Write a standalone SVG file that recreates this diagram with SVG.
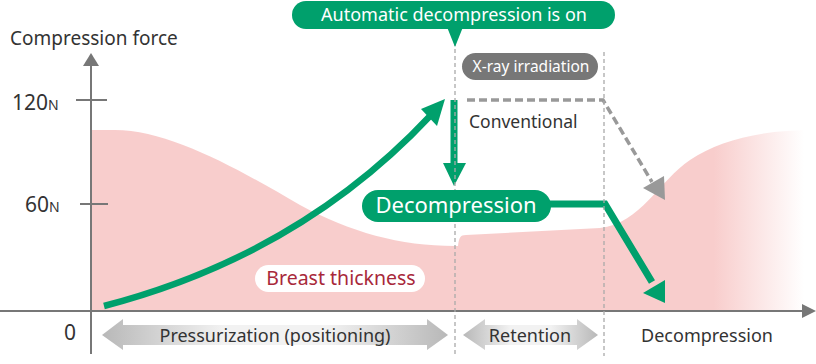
<svg xmlns="http://www.w3.org/2000/svg" width="816" height="364" viewBox="0 0 816 364">
<style>
text{font-family:"Noto Sans","Open Sans","DejaVu Sans",sans-serif;}
.dark{fill:#333333;}
.white{fill:#ffffff;}
.axis{stroke:#777777;stroke-width:2;fill:none;}
.vdash{stroke:#aaaaaa;stroke-width:1.3;stroke-dasharray:4 3;fill:none;}
.green{stroke:#00a06c;fill:none;}
.gfill{fill:#00a06c;}
</style>
<defs>
<linearGradient id="pinkfade" gradientUnits="userSpaceOnUse" x1="91" y1="0" x2="815" y2="0">
<stop offset="0" stop-color="#f8cdcc"/>
<stop offset="0.86" stop-color="#f8cdcc"/>
<stop offset="0.985" stop-color="#f8cdcc" stop-opacity="0"/>
</linearGradient>
<linearGradient id="arrowGrad" x1="0" y1="0" x2="1" y2="0">
<stop offset="0" stop-color="#b8b8b8"/>
<stop offset="0.35" stop-color="#f2f2f2"/>
<stop offset="0.65" stop-color="#f2f2f2"/>
<stop offset="1" stop-color="#b8b8b8"/>
</linearGradient>
</defs>

<g id="breast-area">
<path d="M91,130 L115,130 C170,130 240,170 300,205 C350,232 400,246 455,246 L458,246 C459,238 460,235 466,235 L600,228 C640,224 660,180 690,160 C720,140 760,130 815,130 L815,311 L91,311 Z" fill="url(#pinkfade)"/>
</g>

<g id="axes">
<line class="axis" x1="0" y1="311" x2="803" y2="311"/>
<polygon points="816,311 802,304 802,318" fill="#777777"/>
<line class="axis" x1="91" y1="354" x2="91" y2="63"/>
<polygon points="91,53 83,66 99,66" fill="#777777"/>
<line class="axis" x1="76" y1="100" x2="107" y2="100"/>
<line class="axis" x1="80" y1="204" x2="108" y2="204"/>
<text x="10" y="45" font-size="19" class="dark">Compression force</text>
<text x="12" y="110" font-size="21" class="dark">120<tspan font-size="14">N</tspan></text>
<text x="25" y="212" font-size="21" class="dark">60<tspan font-size="14">N</tspan></text>
<text x="64" y="340" font-size="21" class="dark">0</text>
</g>

<g id="connectors">
<path class="green" stroke-width="6.5" d="M104,306 Q300,255 431,115"/>
<polygon class="gfill" points="445,99 421,109 437,126"/>
<line class="green" stroke-width="7" x1="454" y1="100" x2="454" y2="165"/>
<polygon class="gfill" points="454,186 443,163 466,163"/>
<path d="M467,100 L603,100 L652,182" fill="none" stroke="#999999" stroke-width="3.5" stroke-dasharray="8 4"/>
<polygon points="665,200 643,188 664,176" fill="#999999"/>
<path class="green" stroke-width="7" d="M545,204 L605,204 L652,282"/>
<polygon class="gfill" points="665,303 643,293 665,280"/>
<line class="vdash" x1="455" y1="42" x2="455" y2="356"/>
<line class="vdash" x1="604" y1="52" x2="604" y2="356"/>
</g>

<g id="callout-auto">
<rect x="292" y="1" width="323" height="28" rx="14" class="gfill"/>
<polygon points="447,27 463,27 455,47" class="gfill"/>
<text x="454" y="21" font-size="18" text-anchor="middle" class="white">Automatic decompression is on</text>
</g>

<g id="xray">
<rect x="462" y="53" width="136" height="27" rx="13.5" fill="#777777"/>
<text x="531" y="72" font-size="15.5" text-anchor="middle" class="white">X-ray irradiation</text>
</g>

<g id="conventional">
<text x="469" y="128" font-size="17.5" class="dark">Conventional</text>
</g>

<g id="decompression-box">
<rect x="362" y="190" width="189" height="32" rx="16" class="gfill"/>
<text x="456" y="213" font-size="22" text-anchor="middle" class="white">Decompression</text>
</g>

<g id="breast-label">
<rect x="255" y="265" width="170" height="27" rx="13.5" fill="#ffffff"/>
<text x="341" y="285" font-size="19.5" text-anchor="middle" fill="#a8283a">Breast thickness</text>
</g>

<g id="phase-pressurization">
<path d="M102,335 L123,319 L123,325 L427,325 L427,319 L448,335 L427,350 L427,345 L123,345 L123,350 Z" fill="url(#arrowGrad)"/>
<text x="275" y="342" font-size="18" text-anchor="middle" class="dark">Pressurization (positioning)</text>
</g>

<g id="phase-retention">
<path d="M463,335 L485,319 L485,325 L577,325 L577,319 L598,335 L577,350 L577,345 L485,345 L485,350 Z" fill="url(#arrowGrad)"/>
<text x="530" y="342" font-size="18" text-anchor="middle" class="dark">Retention</text>
</g>

<g id="phase-decompression">
<text x="707" y="342" font-size="18" text-anchor="middle" class="dark">Decompression</text>
</g>
</svg>
